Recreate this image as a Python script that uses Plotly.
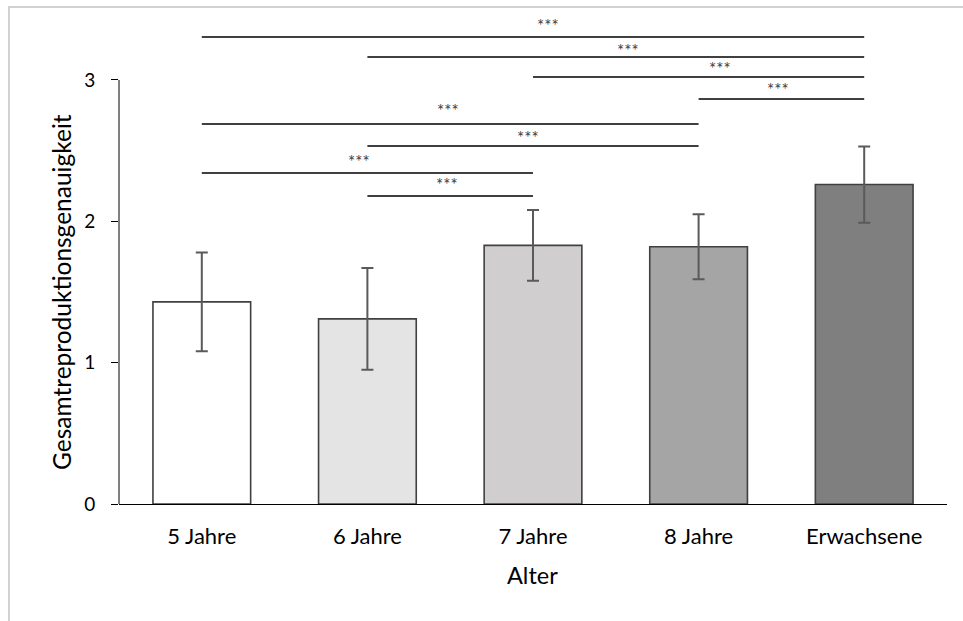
import plotly.graph_objects as go

# ---- data ----
categories = ["5 Jahre", "6 Jahre", "7 Jahre", "8 Jahre", "Erwachsene"]
means = [1.43, 1.31, 1.83, 1.82, 2.26]
errors = [0.35, 0.36, 0.25, 0.23, 0.27]
bar_colors = ["#ffffff", "#e4e4e4", "#d0cecf", "#a5a5a5", "#7f7f7f"]

y_ticks = [0, 1, 2, 3]

# significance comparisons (category index from -> to, bracket level, label position)
sig_from = [0, 1, 2, 3, 0, 1, 0, 1]
sig_to = [4, 4, 4, 4, 3, 3, 2, 2]
sig_level = [3.304, 3.163, 3.021, 2.866, 2.689, 2.533, 2.342, 2.179]
sig_label = ["***"] * 8
sig_label_x = [2.09, 2.574, 3.13, 3.48, 1.486, 1.97, 0.949, 1.48]
sig_label_y = [3.382, 3.212, 3.078, 2.936, 2.781, 2.59, 2.42, 2.264]

x_title = "Alter"
y_title = "Gesamtreproduktionsgenauigkeit"

FONT = "Lato, 'Open Sans', sans-serif"

fig = go.Figure()
fig.add_trace(go.Bar(
    x=list(range(len(categories))),
    y=means,
    width=0.59,
    marker=dict(color=bar_colors, line=dict(color="#404040", width=1.6)),
    error_y=dict(type="data", array=errors, visible=True,
                 color="#5a5a5a", thickness=2, width=6),
    showlegend=False,
    hoverinfo="skip",
))

shapes = []
# significance brackets
for a, b, lvl in zip(sig_from, sig_to, sig_level):
    shapes.append(dict(type="line", xref="x", yref="y", x0=a, x1=b, y0=lvl, y1=lvl,
                       line=dict(color="#000000", width=1.5)))
# y-axis line only from 0 to 3
shapes.append(dict(type="line", xref="paper", yref="y", x0=0, x1=0,
                   y0=y_ticks[0], y1=y_ticks[-1], line=dict(color="#000000", width=1)))
# outer border of chart area
shapes.append(dict(type="rect", xref="paper", yref="paper",
                   x0=-0.1329, x1=1.04, y0=-0.30, y1=1.0354,
                   line=dict(color="#c4c4c4", width=1.5), fillcolor="rgba(0,0,0,0)",
                   layer="below"))

annotations = []
for lx, ly, txt in zip(sig_label_x, sig_label_y, sig_label):
    annotations.append(dict(x=lx, y=ly, xref="x", yref="y", text=txt, showarrow=False,
                            font=dict(family=FONT, size=17, color="#404040"),
                            xanchor="center", yanchor="middle"))
annotations.append(dict(x=0.4988, y=-0.148, xref="paper", yref="paper", text=x_title,
                        showarrow=False, font=dict(family=FONT, size=23.5, color="#000000"),
                        xanchor="center", yanchor="middle"))
annotations.append(dict(x=-0.0688, y=0.4417, xref="paper", yref="paper", text=y_title,
                        showarrow=False, textangle=-90,
                        font=dict(family=FONT, size=24.5, color="#000000"),
                        xanchor="center", yanchor="middle"))

fig.update_layout(
    width=963, height=621,
    margin=dict(l=119, r=16, t=24, b=117),
    paper_bgcolor="white", plot_bgcolor="white",
    font=dict(family=FONT, color="#000000"),
    shapes=shapes, annotations=annotations,
    bargap=0.41,
)
fig.update_xaxes(
    range=[-0.5, 4.5],
    tickmode="array", tickvals=list(range(len(categories))), ticktext=categories,
    tickfont=dict(family=FONT, size=22, color="#000000"),
    showline=True, linecolor="#000000", linewidth=1.3,
    showgrid=False, zeroline=False, ticks="", ticklabelstandoff=12,
)
fig.update_yaxes(
    range=[0, 3.396],
    tickmode="array", tickvals=y_ticks, ticktext=[str(v) for v in y_ticks],
    tickfont=dict(family=FONT, size=19, color="#000000"),
    showline=False, showgrid=False, zeroline=False,
    ticks="outside", ticklen=7, tickcolor="#000000", tickwidth=1,
    ticklabelstandoff=12,
)

fig.write_html("out.html",
               config={"displayModeBar": False},
               post_script="document.body.style.margin='0';document.body.style.overflow='hidden';")
